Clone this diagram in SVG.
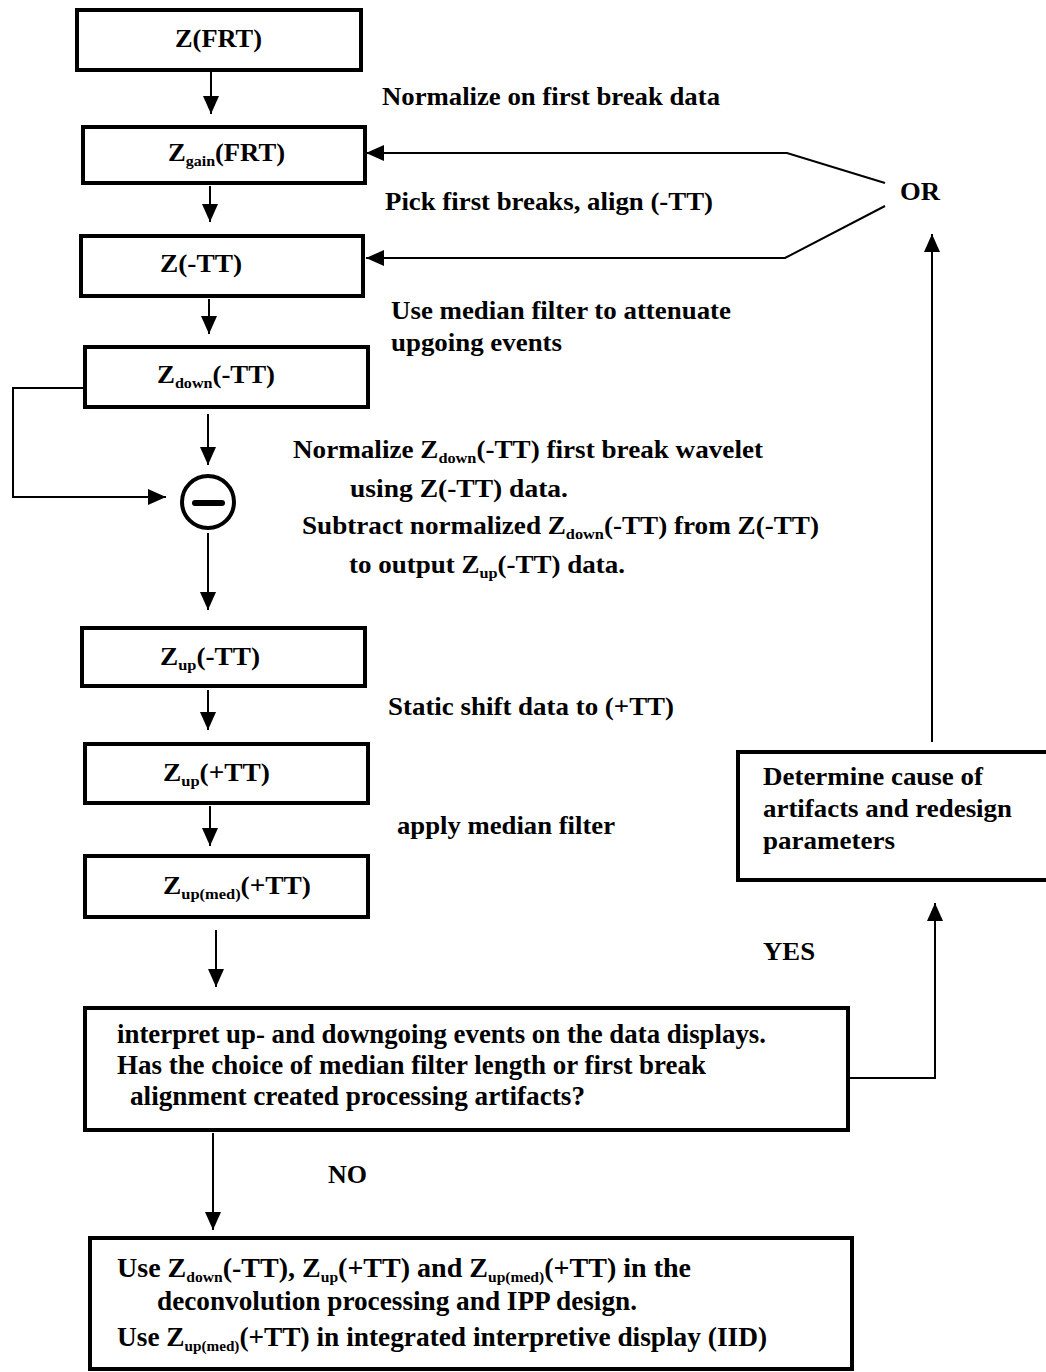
<svg xmlns="http://www.w3.org/2000/svg" width="1046" height="1372" viewBox="0 0 1046 1372">
<style>
.t{font-family:"Liberation Serif","Times New Roman",serif;font-weight:bold;font-size:25px;fill:#000}
.n{font-size:27px}
.s{font-size:15px}
.box{fill:#fff;stroke:#000;stroke-width:4}
.c{fill:none;stroke:#000;stroke-width:2}
</style>
<defs>
<marker id="ah" markerUnits="userSpaceOnUse" markerWidth="18" markerHeight="16" refX="18" refY="8" orient="auto" viewBox="0 0 18 16">
<path d="M0,0 L18,8 L0,16 z" fill="#000"/>
</marker>
</defs>
<rect width="1046" height="1372" fill="#fff"/>

<g id="connectors">
<line class="c" x1="211" y1="72" x2="211" y2="114" marker-end="url(#ah)"/>
<line class="c" x1="210" y1="186" x2="210" y2="222" marker-end="url(#ah)"/>
<line class="c" x1="209" y1="299" x2="209" y2="334" marker-end="url(#ah)"/>
<line class="c" x1="208" y1="414" x2="208" y2="465" marker-end="url(#ah)"/>
<line class="c" x1="208" y1="533" x2="208" y2="610" marker-end="url(#ah)"/>
<line class="c" x1="208" y1="690" x2="208" y2="730" marker-end="url(#ah)"/>
<line class="c" x1="210" y1="806" x2="210" y2="846" marker-end="url(#ah)"/>
<line class="c" x1="216" y1="930" x2="216" y2="987" marker-end="url(#ah)"/>
<line class="c" x1="213" y1="1133" x2="213" y2="1230" marker-end="url(#ah)"/>
<polyline class="c" points="85,388 13,388 13,497 166,497" marker-end="url(#ah)"/>
<polyline class="c" points="885,183 787,153 366,153" marker-end="url(#ah)"/>
<polyline class="c" points="885,206 785,258 366,258" marker-end="url(#ah)"/>
<line class="c" x1="932" y1="742" x2="932" y2="234" marker-end="url(#ah)"/>
<polyline class="c" points="849,1078 935,1078 935,903" marker-end="url(#ah)"/>
</g>

<g id="n-zfrt"><rect class="box" x="77" y="10" width="284" height="60"/>
<text class="t" x="175" y="47" textLength="87" lengthAdjust="spacingAndGlyphs">Z(FRT)</text></g>

<g id="n-zgain"><rect class="box" x="83" y="127" width="282" height="56"/>
<text class="t" x="168" y="161" textLength="117" lengthAdjust="spacingAndGlyphs">Z<tspan class="s" dy="5">gain</tspan><tspan dy="-5">(FRT)</tspan></text></g>

<g id="n-ztt"><rect class="box" x="81" y="236" width="282" height="60"/>
<text class="t" x="160" y="272" textLength="82" lengthAdjust="spacingAndGlyphs">Z(-TT)</text></g>

<g id="n-zdown"><rect class="box" x="85" y="347" width="283" height="60"/>
<text class="t" x="157" y="383" textLength="118" lengthAdjust="spacingAndGlyphs">Z<tspan class="s" dy="5">down</tspan><tspan dy="-5">(-TT)</tspan></text></g>

<g id="n-subtract">
<circle cx="208" cy="502" r="26" fill="#fff" stroke="#000" stroke-width="4"/>
<line x1="195" y1="503" x2="222" y2="503" stroke="#000" stroke-width="6" stroke-linecap="round"/>
</g>

<g id="n-zup-tt"><rect class="box" x="82" y="628" width="283" height="58"/>
<text class="t" x="160" y="665" textLength="100" lengthAdjust="spacingAndGlyphs">Z<tspan class="s" dy="5">up</tspan><tspan dy="-5">(-TT)</tspan></text></g>

<g id="n-zup-ptt"><rect class="box" x="85" y="744" width="283" height="59"/>
<text class="t" x="163" y="781" textLength="107" lengthAdjust="spacingAndGlyphs">Z<tspan class="s" dy="5">up</tspan><tspan dy="-5">(+TT)</tspan></text></g>

<g id="n-zupmed"><rect class="box" x="85" y="856" width="283" height="61"/>
<text class="t" x="163" y="894" textLength="148" lengthAdjust="spacingAndGlyphs">Z<tspan class="s" dy="5">up(med)</tspan><tspan dy="-5">(+TT)</tspan></text></g>

<g id="n-decision"><rect class="box" x="85" y="1008" width="763" height="122"/>
<text class="t n" x="117" y="1043" textLength="649" lengthAdjust="spacingAndGlyphs">interpret up- and downgoing events on the data displays.</text>
<text class="t n" x="117" y="1074" textLength="589" lengthAdjust="spacingAndGlyphs">Has the choice of median filter length or first break</text>
<text class="t n" x="130" y="1105" textLength="455" lengthAdjust="spacingAndGlyphs">alignment  created processing artifacts?</text>
</g>

<g id="n-final"><rect class="box" x="90" y="1238" width="762" height="131"/>
<text class="t n" x="117" y="1277" textLength="574" lengthAdjust="spacingAndGlyphs">Use Z<tspan class="s" dy="5">down</tspan><tspan dy="-5">(-TT), Z</tspan><tspan class="s" dy="5">up</tspan><tspan dy="-5">(+TT) and Z</tspan><tspan class="s" dy="5">up(med)</tspan><tspan dy="-5">(+TT) in the</tspan></text>
<text class="t n" x="157" y="1310" textLength="480" lengthAdjust="spacingAndGlyphs">deconvolution processing and IPP design.</text>
<text class="t n" x="117" y="1346" textLength="650" lengthAdjust="spacingAndGlyphs">Use Z<tspan class="s" dy="5">up(med)</tspan><tspan dy="-5">(+TT) in integrated interpretive display (IID)</tspan></text>
</g>

<g id="n-determine"><rect class="box" x="738" y="752" width="312" height="128"/>
<text class="t" x="763" y="785" textLength="220" lengthAdjust="spacingAndGlyphs">Determine cause of</text>
<text class="t" x="763" y="817" textLength="249" lengthAdjust="spacingAndGlyphs">artifacts and redesign</text>
<text class="t" x="763" y="849" textLength="132" lengthAdjust="spacingAndGlyphs">parameters</text>
</g>

<g id="labels">
<text class="t" x="382" y="105" textLength="338" lengthAdjust="spacingAndGlyphs">Normalize on first break data</text>
<text class="t" x="385" y="210" textLength="328" lengthAdjust="spacingAndGlyphs">Pick first breaks, align (-TT)</text>
<text class="t" x="900" y="200" textLength="40" lengthAdjust="spacingAndGlyphs">OR</text>
<text class="t" x="391" y="319" textLength="340" lengthAdjust="spacingAndGlyphs">Use median filter to attenuate</text>
<text class="t" x="391" y="351" textLength="171" lengthAdjust="spacingAndGlyphs">upgoing events</text>
<text class="t" x="293" y="458" textLength="470" lengthAdjust="spacingAndGlyphs">Normalize Z<tspan class="s" dy="5">down</tspan><tspan dy="-5">(-TT) first break wavelet</tspan></text>
<text class="t" x="350" y="497" textLength="218" lengthAdjust="spacingAndGlyphs">using  Z(-TT) data.</text>
<text class="t" x="302" y="534" textLength="517" lengthAdjust="spacingAndGlyphs">Subtract normalized Z<tspan class="s" dy="5">down</tspan><tspan dy="-5">(-TT) from Z(-TT)</tspan></text>
<text class="t" x="349" y="573" textLength="276" lengthAdjust="spacingAndGlyphs">to output Z<tspan class="s" dy="5">up</tspan><tspan dy="-5">(-TT) data.</tspan></text>
<text class="t" x="388" y="715" textLength="286" lengthAdjust="spacingAndGlyphs">Static shift data to (+TT)</text>
<text class="t" x="397" y="834" textLength="218" lengthAdjust="spacingAndGlyphs">apply median filter</text>
<text class="t" x="763" y="960" textLength="52" lengthAdjust="spacingAndGlyphs">YES</text>
<text class="t" x="328" y="1183" textLength="39" lengthAdjust="spacingAndGlyphs">NO</text>
</g>
</svg>
